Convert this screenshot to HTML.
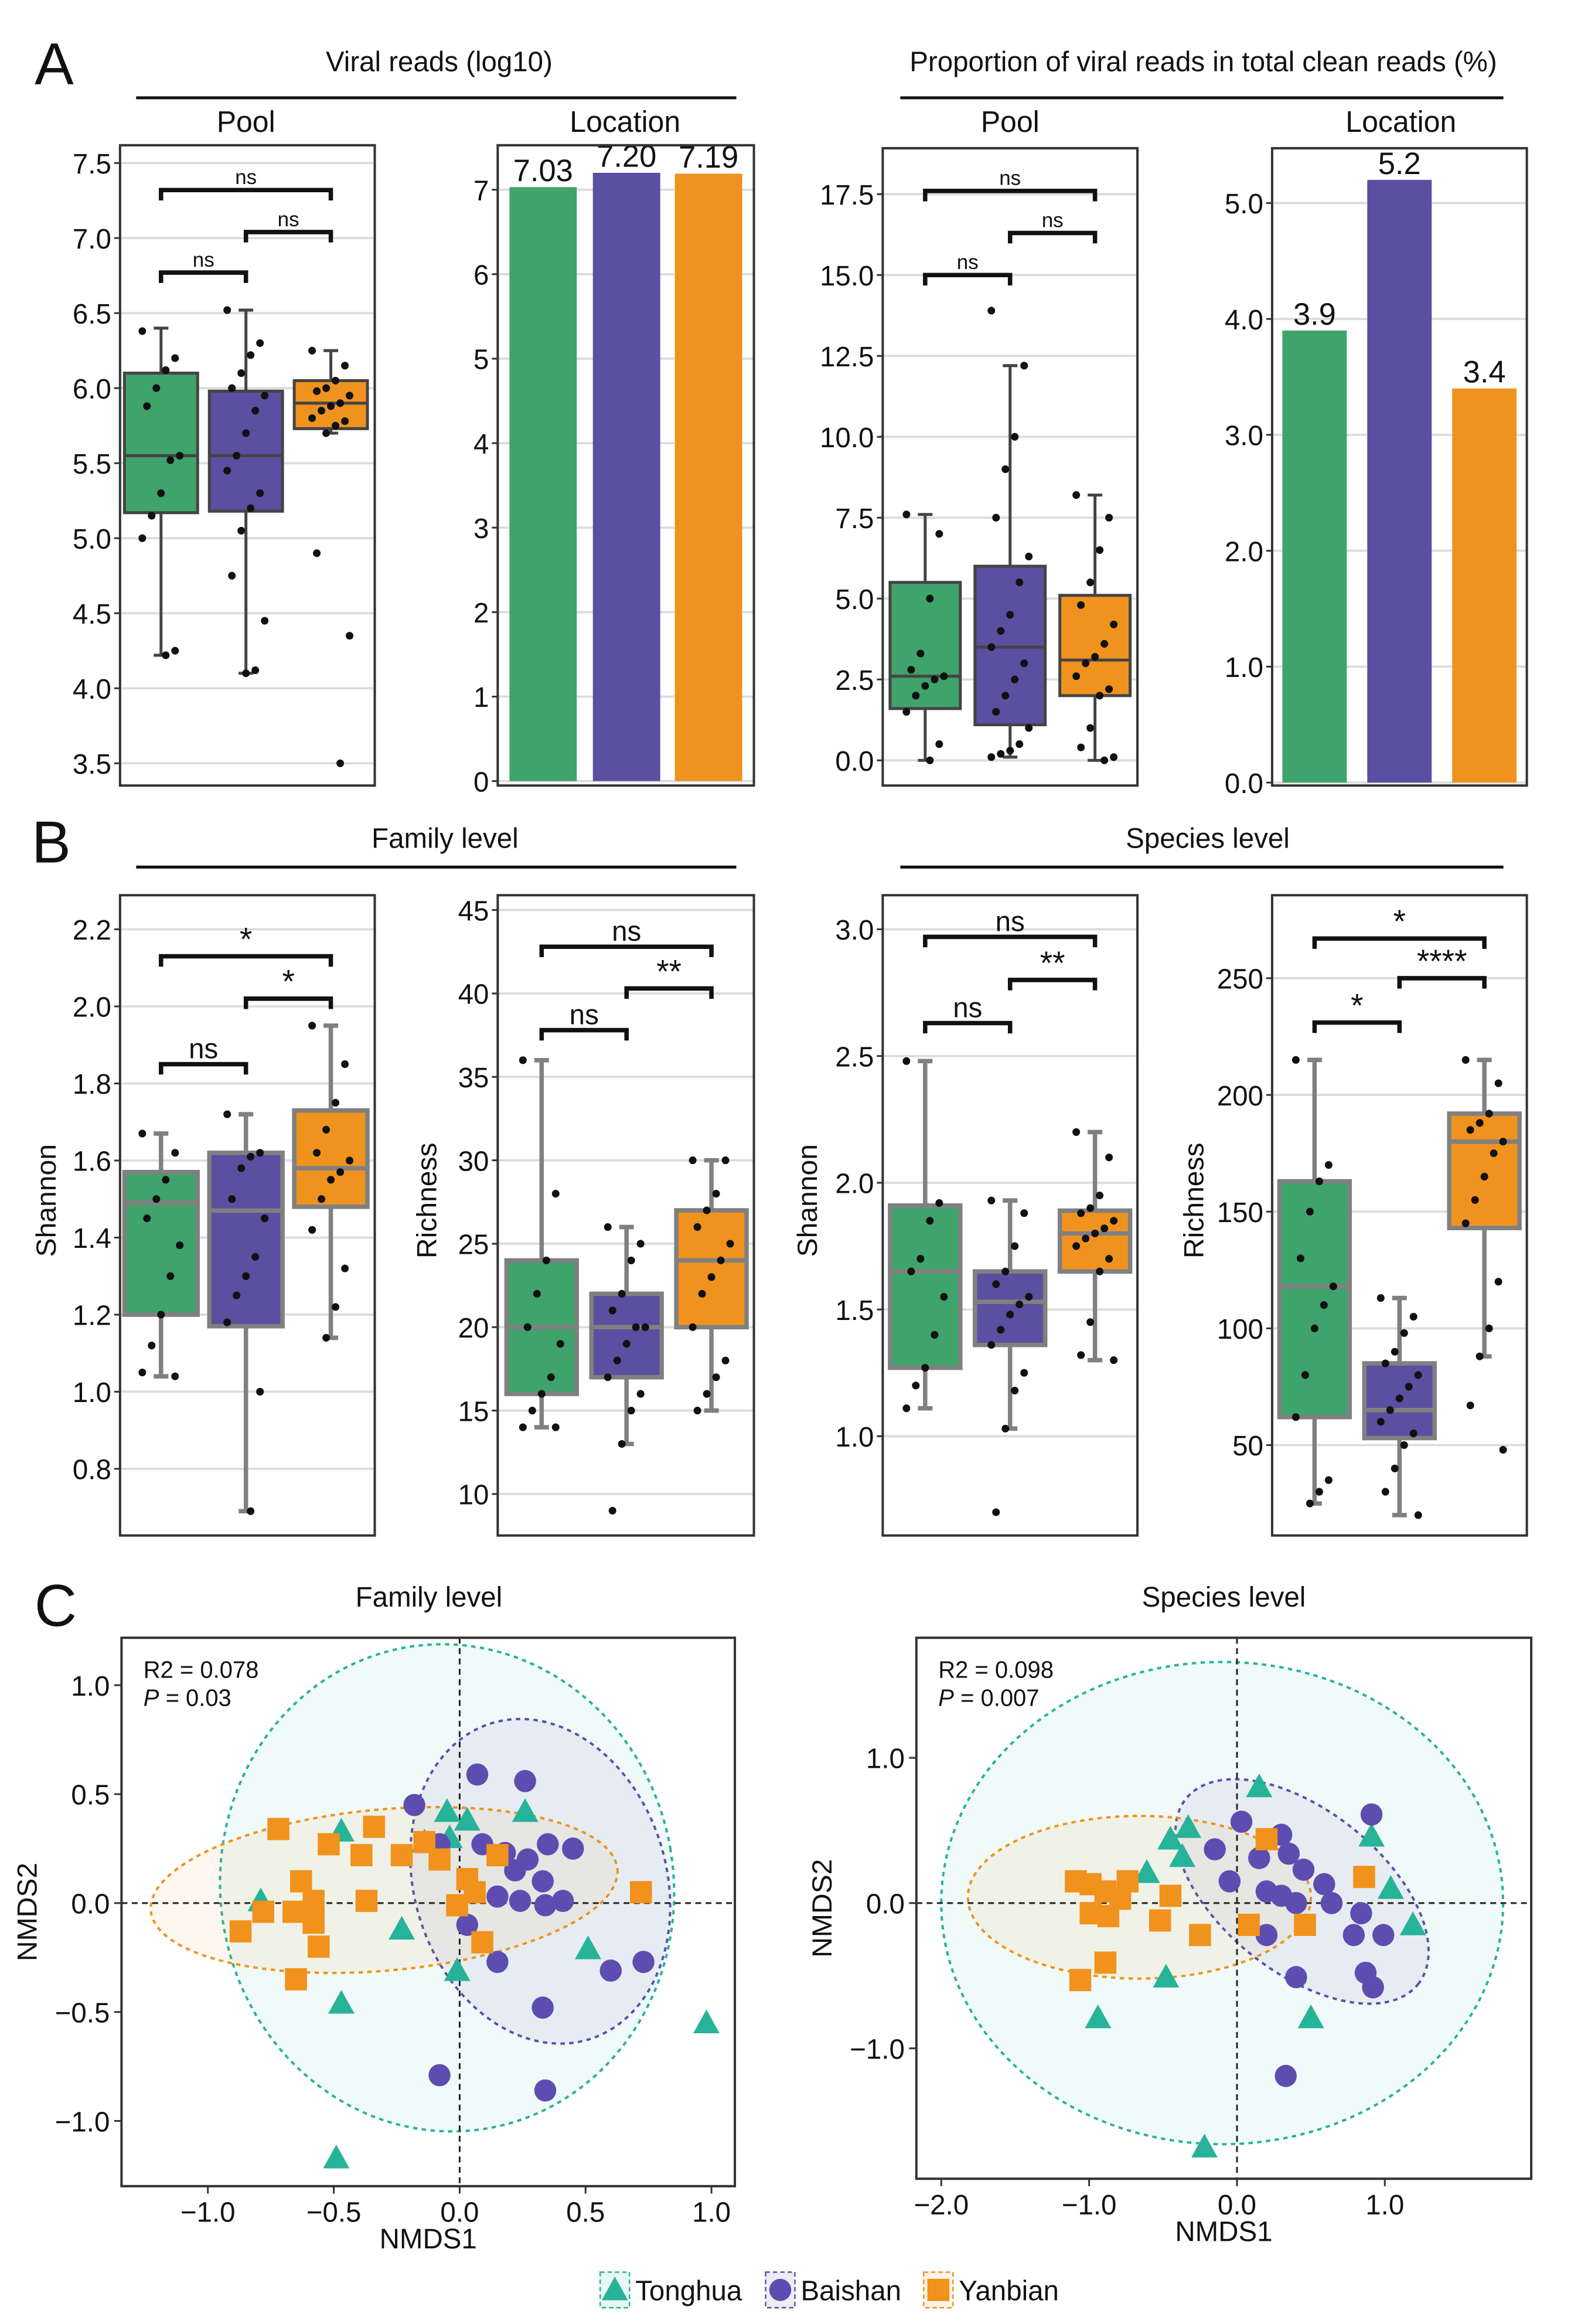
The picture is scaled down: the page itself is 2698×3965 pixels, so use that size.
<!DOCTYPE html>
<html><head><meta charset="utf-8"><style>
html,body{margin:0;padding:0;background:#fff}
svg{display:block;font-family:"Liberation Sans",Arial,sans-serif}
</style></head><body>
<svg id="fig" xmlns="http://www.w3.org/2000/svg" width="2698" height="3965" viewBox="0 0 1080 1568" preserveAspectRatio="none"></svg>
<script>
// ---------- DATA ----------
const groups = ['Tonghua','Baishan','Yanbian'];
const a1Stats = [[4.22,5.17,5.55,6.1,6.4],[4.1,5.18,5.55,5.98,6.52],[5.7,5.73,5.9,6.05,6.25]];
const a1Dots = [[6.38,6.2,6.12,6.0,5.88,5.55,5.52,5.3,5.15,5.0,4.25,4.22],
 [6.52,6.3,6.22,6.1,6.0,5.95,5.85,5.7,5.55,5.45,5.3,5.2,5.05,4.75,4.45,4.12,4.1],
 [6.25,6.15,6.05,6.0,5.98,5.95,5.9,5.88,5.85,5.8,5.78,5.75,5.7,4.9,4.35,3.5]];
const a1Ticks = [3.5,4.0,4.5,5.0,5.5,6.0,6.5,7.0,7.5];
const a2Values = [7.03,7.20,7.19];
const a2Labels = ['7.03','7.20','7.19'];
const a2Ticks = [0,1,2,3,4,5,6,7];
const a3Stats = [[0,1.6,2.6,5.5,7.6],[0.1,1.1,3.5,6.0,12.2],[0,2.0,3.1,5.1,8.2]];
const a3Dots = [[7.6,7.0,5.0,3.3,2.8,2.6,2.5,2.3,2.0,1.5,0.5,0],
 [13.9,12.2,10.0,9.0,7.5,6.3,5.5,4.5,4.0,3.5,3.0,2.5,2.0,1.5,1.0,0.5,0.3,0.2,0.1],
 [8.2,7.5,6.5,5.5,4.8,4.2,3.6,3.2,3.0,2.6,2.2,2.0,1.0,0.4,0.1,0]];
const a3Ticks = [0,2.5,5,7.5,10,12.5,15,17.5];
const a4Values = [3.9,5.2,3.4];
const a4Labels = ['3.9','5.2','3.4'];
const a4Ticks = [0,1,2,3,4,5];
const b1Stats = [[1.04,1.2,1.49,1.57,1.67],[0.69,1.17,1.47,1.62,1.72],[1.14,1.48,1.58,1.73,1.95]];
const b1Dots = [[1.67,1.62,1.55,1.5,1.45,1.38,1.3,1.2,1.12,1.05,1.04],
 [1.72,1.62,1.61,1.58,1.5,1.45,1.35,1.3,1.25,1.18,1.0,0.69],
 [1.95,1.85,1.75,1.68,1.62,1.6,1.57,1.55,1.5,1.42,1.32,1.22,1.14]];
const b1Ticks = [0.8,1.0,1.2,1.4,1.6,1.8,2.0,2.2];
const b2Stats = [[14,16,20,24,36],[13,17,20,22,26],[15,20,24,27,30]];
const b2Dots = [[36,28,24,22,20,19,17,16,15,14,14],
 [26,25,24,22,21,20,20,19,18,17,16,15,13,9],
 [30,30,28,27,26,25,24,23,22,20,18,17,16,15]];
const b2Ticks = [10,15,20,25,30,35,40,45];
const b3Stats = [[1.11,1.27,1.65,1.91,2.48],[1.03,1.36,1.53,1.65,1.93],[1.3,1.65,1.8,1.89,2.2]];
const b3Dots = [[2.48,1.92,1.85,1.7,1.65,1.55,1.4,1.27,1.2,1.11],
 [1.93,1.88,1.75,1.65,1.6,1.55,1.52,1.48,1.42,1.36,1.25,1.18,1.03,0.7],
 [2.2,2.1,1.95,1.9,1.88,1.85,1.82,1.8,1.78,1.75,1.7,1.65,1.45,1.32,1.3]];
const b3Ticks = [1.0,1.5,2.0,2.5,3.0];
const b4Stats = [[25,62,118,163,215],[20,53,65,85,113],[88,143,180,192,215]];
const b4Dots = [[215,170,163,150,130,118,110,100,80,62,35,30,25],
 [113,105,98,90,85,80,75,70,65,60,55,50,40,30,20],
 [215,205,192,188,185,180,175,165,155,145,120,100,88,67,48]];
const b4Ticks = [50,100,150,200,250];
const cfTong = [[-0.79,0.01],[-0.47,0.33],[-0.23,-0.12],[-0.14,0.28],[-0.05,0.42],[0.03,0.38],[0.26,0.42],[-0.04,0.30],[-0.01,-0.31],[0.51,-0.21],[-0.47,-0.46],[0.98,-0.55],[-0.49,-1.17]];
const cfBai = [[0.07,0.59],[0.26,0.56],[-0.18,0.45],[-0.08,0.27],[0.09,0.27],[0.18,0.23],[0.27,0.20],[0.35,0.27],[0.45,0.25],[0.22,0.15],[0.33,0.10],[0.41,0.01],[0.24,0.01],[0.15,0.03],[0.34,-0.01],[0.03,-0.10],[0.15,-0.27],[0.60,-0.31],[0.73,-0.27],[0.33,-0.48],[-0.08,-0.79],[0.34,-0.86]];
const cfYan = [[-0.34,0.35],[-0.72,0.34],[-0.52,0.27],[-0.39,0.22],[-0.23,0.22],[-0.14,0.28],[-0.08,0.20],[0.15,0.22],[0.03,0.11],[-0.63,0.10],[-0.37,0.01],[-0.58,0.01],[-0.78,-0.04],[-0.66,-0.04],[-0.58,-0.09],[-0.01,-0.01],[0.06,0.05],[0.72,0.05],[-0.87,-0.13],[-0.56,-0.20],[0.09,-0.18],[-0.65,-0.35]];
const cfXTicks = [-1.0,-0.5,0.0,0.5,1.0];
const cfYTicks = [-1.0,-0.5,0.0,0.5,1.0];
const csTong = [[0.15,0.80],[-0.33,0.52],[-0.45,0.44],[-0.37,0.32],[-0.61,0.21],[0.91,0.46],[1.04,0.10],[1.19,-0.15],[-0.48,-0.51],[0.50,-0.79],[-0.94,-0.79],[-0.22,-1.68]];
const csBai = [[0.03,0.56],[0.30,0.47],[0.91,0.61],[-0.15,0.37],[0.15,0.31],[0.35,0.34],[0.45,0.23],[-0.05,0.15],[0.20,0.08],[0.30,0.05],[0.40,0.0],[0.59,0.13],[0.64,0.0],[0.84,-0.07],[0.79,-0.22],[0.99,-0.22],[0.20,-0.22],[0.40,-0.51],[0.87,-0.48],[0.92,-0.58],[0.33,-1.19]];
const csYan = [[0.20,0.44],[-1.09,0.15],[-0.99,0.13],[-0.89,0.08],[-0.74,0.15],[-0.79,0.03],[-0.99,-0.07],[-0.45,0.05],[-0.87,-0.09],[-0.52,-0.12],[0.08,-0.15],[0.46,-0.15],[0.86,0.18],[-0.25,-0.22],[-0.89,-0.41],[-1.06,-0.53]];
const csXTicks = [-2.0,-1.0,0.0,1.0];
const csYTicks = [-1.0,0.0,1.0];

// ---------- HELPERS ----------
const NS='http://www.w3.org/2000/svg';
const svg=document.getElementById('fig');
function el(tag,attrs,parent,txt){const e=document.createElementNS(NS,tag);for(const k in attrs)e.setAttribute(k,attrs[k]);if(txt!==undefined)e.textContent=txt;(parent||svg).appendChild(e);return e;}
function lin(v0,p0,v1,p1){return v=>p0+(v-v0)*(p1-p0)/(v1-v0);}
const boxFill=['#3fa36c','#5a4fa0','#f0931e'];
const ptCol=['#26b39a','#5d4db0','#f0921c'];
function txt(x,y,s,size,anchor,name,extra){const t=el('text',Object.assign({x:x,y:y,'font-size':size,'text-anchor':anchor||'middle',fill:'#111'},extra||{}),svg,s);return t;}
function frame(x0,y0,x1,y1,name){const r=el('rect',{x:x0,y:y0,width:x1-x0,height:y1-y0,fill:'none',stroke:'#333','stroke-width':1.6});}
function yAxis(x0,x1,ticks,sy,fmt,name){ticks.forEach(t=>{const y=sy(t);const g=el('line',{x1:x0,x2:x1,y1:y,y2:y,stroke:'#dcdcdc','stroke-width':1.5});
 const tk=el('line',{x1:x0-4,x2:x0,y1:y,y2:y,stroke:'#333','stroke-width':1.2});
 txt(x0-6,y+7,fmt(t),19,'end',name+'-tick-label');});}
function boxplot(cxs,w,stats,dots,sy,stroke,sw,name){stats.forEach((s,i)=>{const cx=cxs[i];
 const wl=el('line',{x1:cx,x2:cx,y1:sy(s[0]),y2:sy(s[4]),stroke:stroke,'stroke-width':sw});
 [s[0],s[4]].forEach(v=>{const c=el('line',{x1:cx-5,x2:cx+5,y1:sy(v),y2:sy(v),stroke:stroke,'stroke-width':sw});});
 const b=el('rect',{x:cx-w/2,y:sy(s[3]),width:w,height:sy(s[1])-sy(s[3]),fill:boxFill[i],stroke:stroke,'stroke-width':sw});
 const m=el('line',{x1:cx-w/2,x2:cx+w/2,y1:sy(s[2]),y2:sy(s[2]),stroke:stroke,'stroke-width':sw});
 dots[i].forEach((v,j)=>{const off=((j*7)%9-4)*3.2;const d=el('circle',{cx:cx+off,cy:sy(v),r:2.6,fill:'#111'});});});}
function bracket(xa,xb,y,label,name){const p=el('path',{d:`M${xa},${y+7}V${y}H${xb}V${y+7}`,fill:'none',stroke:'#111','stroke-width':3});
 txt((xa+xb)/2,y-4,label,label==='ns'?(y<600?14:19):22,'middle',name+'-label');}
function bars(xs,w,vals,labels,sy,name){vals.forEach((v,i)=>{const r=el('rect',{x:xs[i],y:sy(v),width:w,height:sy(0)-sy(v),fill:boxFill[i]});
 txt(xs[i]+w/2,sy(v)-4,labels[i],21,'middle',name+'-value-label');});}

// ---------- PANEL A ----------
txt(37,57,'A',40,'middle','panel-a-letter');
txt(300,48,'Viral reads (log10)',19,'middle','viral-reads-title');
el('line',{x1:93,x2:503,y1:66,y2:66,stroke:'#111','stroke-width':2,});
txt(168,89,'Pool',20,'middle','a1-subtitle');txt(427,89,'Location',20,'middle','a2-subtitle');
txt(822,48,'Proportion of viral reads in total clean reads (%)',19,'middle','proportion-title');
el('line',{x1:615,x2:1027,y1:66,y2:66,stroke:'#111','stroke-width':2,});
txt(690,89,'Pool',20,'middle','a3-subtitle');txt(957,89,'Location',20,'middle','a4-subtitle');

const sA1=lin(7.5,110,3.5,515);
yAxis(82,256,a1Ticks,sA1,v=>v.toFixed(1),'a1');
boxplot([110,168,226],50,a1Stats,a1Dots,sA1,'#444',2,'a1');
bracket(110,168,sA1(6.77),'ns','a1-sig-1-2');bracket(168,226,sA1(7.04),'ns','a1-sig-2-3');bracket(110,226,sA1(7.32),'ns','a1-sig-1-3');
frame(82,98,256,530,'a1-frame');

const sA2=lin(0,527,7,128);
yAxis(340,515,a2Ticks,sA2,v=>String(v),'a2');
bars([348,405,461],46,a2Values,a2Labels,sA2,'a2');
frame(340,98,515,530,'a2-frame');

const sA3=lin(17.5,131,0,513);
yAxis(603,777,a3Ticks,sA3,v=>v.toFixed(1),'a3');
boxplot([632,690,748],48,a3Stats,a3Dots,sA3,'#444',2,'a3');
bracket(632,690,sA3(15.0),'ns','a3-sig-1-2');bracket(690,748,sA3(16.3),'ns','a3-sig-2-3');bracket(632,748,sA3(17.6),'ns','a3-sig-1-3');
frame(603,100,777,530,'a3-frame');

const sA4=lin(0,528,5,137);
yAxis(869,1043,a4Ticks,sA4,v=>v.toFixed(1),'a4');
bars([876,934,992],44,a4Values,a4Labels,sA4,'a4');
frame(869,100,1043,530,'a4-frame');

// ---------- PANEL B ----------
txt(35,582,'B',40,'middle','panel-b-letter');
txt(304,572,'Family level',19,'middle','b-family-title');
el('line',{x1:93,x2:503,y1:585,y2:585,stroke:'#111','stroke-width':2,});
txt(825,572,'Species level',19,'middle','b-species-title');
el('line',{x1:615,x2:1027,y1:585,y2:585,stroke:'#111','stroke-width':2,});

const sB1=lin(2.2,627,0.8,991);
yAxis(82,256,b1Ticks,sB1,v=>v.toFixed(1),'b1');
boxplot([110,168,226],50,b1Stats,b1Dots,sB1,'#808080',3,'b1');
bracket(110,168,sB1(1.85),'ns','b1-sig-1-2');bracket(168,226,sB1(2.02),'*','b1-sig-2-3');bracket(110,226,sB1(2.13),'*','b1-sig-1-3');
frame(82,604,256,1036,'b1-frame');
txt(38,810,'Shannon',19,'middle','b1-y-title',{transform:'rotate(-90 38 810)'});

const sB2=lin(45,614,10,1008);
yAxis(340,515,b2Ticks,sB2,v=>String(v),'b2');
boxplot([370,428,486],48,b2Stats,b2Dots,sB2,'#808080',3,'b2');
bracket(370,428,sB2(37.8),'ns','b2-sig-1-2');bracket(428,486,sB2(40.3),'**','b2-sig-2-3');bracket(370,486,sB2(42.8),'ns','b2-sig-1-3');
frame(340,604,515,1036,'b2-frame');
txt(298,810,'Richness',19,'middle','b2-y-title',{transform:'rotate(-90 298 810)'});

const sB3=lin(3.0,627,1.0,969);
yAxis(603,777,b3Ticks,sB3,v=>v.toFixed(1),'b3');
boxplot([632,690,748],48,b3Stats,b3Dots,sB3,'#808080',3,'b3');
bracket(632,690,sB3(2.63),'ns','b3-sig-1-2');bracket(690,748,sB3(2.80),'**','b3-sig-2-3');bracket(632,748,sB3(2.97),'ns','b3-sig-1-3');
frame(603,604,777,1036,'b3-frame');
txt(558,810,'Shannon',19,'middle','b3-y-title',{transform:'rotate(-90 558 810)'});

const sB4=lin(250,660,50,975);
yAxis(869,1043,b4Ticks,sB4,v=>String(v),'b4');
boxplot([898,956,1014],48,b4Stats,b4Dots,sB4,'#808080',3,'b4');
bracket(898,956,sB4(231),'*','b4-sig-1-2');bracket(956,1014,sB4(250),'****','b4-sig-2-3');bracket(898,1014,sB4(267),'*','b4-sig-1-3');
frame(869,604,1043,1036,'b4-frame');
txt(822,810,'Richness',19,'middle','b4-y-title',{transform:'rotate(-90 822 810)'});

// ---------- PANEL C ----------
txt(38,1097,'C',40,'middle','panel-c-letter');
txt(293,1084,'Family level',19,'middle','c-family-title');
txt(836,1084,'Species level',19,'middle','c-species-title');
function marker(kind,x,y,col,name){let e;
 if(kind==0)e=el('path',{d:`M${x},${y-9}L${x+9},${y+7}L${x-9},${y+7}Z`,fill:col});
 else if(kind==1)e=el('circle',{cx:x,cy:y,r:7.5,fill:col});
 else e=el('rect',{x:x-7.5,y:y-7.5,width:15,height:15,fill:col});
 return e;}
function ellipse(cx,cy,rx,ry,rot,i,name){const e=el('ellipse',{cx:cx,cy:cy,rx:rx,ry:ry,transform:`rotate(${rot} ${cx} ${cy})`,fill:ptCol[i],'fill-opacity':0.07,stroke:ptCol[i],'stroke-width':1.6,'stroke-dasharray':'3 3'});}
function nmds(x0,y0,x1,y1,sx,sy,xt,yt,sets,ells,r2,p,name){
 const c=el('rect',{x:x0,y:y0,width:x1-x0,height:y1-y0,fill:'#fff'});
 ells.forEach((e,i)=>ellipse(sx(e[0]),sy(e[1]),Math.abs(sx(e[2])-sx(0)),Math.abs(sy(e[3])-sy(0)),e[4],i,name+'-ellipse-'+groups[i].toLowerCase()));
 const vx=el('line',{x1:sx(0),x2:sx(0),y1:y0,y2:y1,stroke:'#222','stroke-width':1.2,'stroke-dasharray':'4 3'});
 const hy=el('line',{x1:x0,x2:x1,y1:sy(0),y2:sy(0),stroke:'#222','stroke-width':1.2,'stroke-dasharray':'4 3'});
 sets.forEach((s,i)=>s.forEach(pt=>marker(i,sx(pt[0]),sy(pt[1]),ptCol[i],name+'-point-'+groups[i].toLowerCase())));
 frame(x0,y0,x1,y1,name+'-frame');
 xt.forEach(t=>{const x=sx(t);const tk=el('line',{x1:x,x2:x,y1:y1,y2:y1+5,stroke:'#333','stroke-width':1.2});txt(x,y1+24,(t<0?'\u2212':'')+Math.abs(t).toFixed(1),19,'middle',name+'-x-tick-label');});
 yt.forEach(t=>{const y=sy(t);const tk=el('line',{x1:x0-5,x2:x0,y1:y,y2:y,stroke:'#333','stroke-width':1.2});txt(x0-8,y+7,(t<0?'\u2212':'')+Math.abs(t).toFixed(1),19,'end',name+'-y-tick-label');});
 txt(x0+15,y0+27,r2,16,'start',name+'-r2-label');
 const pt=txt(x0+15,y0+46,'',16,'start',name+'-p-label');
 el('tspan',{'font-style':'italic'},pt,'P');el('tspan',{},pt,' = '+p);
 txt((x0+x1)/2,y1+42,'NMDS1',19,'middle',name+'-x-title');
 const yx=x0-58,yy=(y0+y1)/2;txt(yx,yy,'NMDS2',19,'middle',name+'-y-title',{transform:`rotate(-90 ${yx} ${yy})`});}
const sxF=lin(0,314,1,486), syF=lin(0,1284,1,1137);
nmds(83,1105,502,1475,sxF,syF,cfXTicks,cfYTicks,[cfTong,cfBai,cfYan],
 [[-0.05,0.07,0.9,1.12,-10],[0.32,0.1,0.5,0.76,-18],[-0.3,0.06,0.93,0.37,-5]],'R2 = 0.078','0.03','c1');
const sxS=lin(0,845,1,946), syS=lin(0,1284,1,1186);
nmds(626,1105,1046,1470,sxS,syS,csXTicks,csYTicks,[csTong,csBai,csYan],
 [[-0.1,0,1.9,1.66,0],[0.44,0.08,1.0,0.56,38],[-0.66,0.04,1.16,0.56,0]],'R2 = 0.098','0.007','c2');

// legend
[[420,'Tonghua'],[533,'Baishan'],[641,'Yanbian']].forEach((l,i)=>{
 const bg=el('rect',{x:l[0]-10,y:1533,width:20,height:24,fill:ptCol[i],'fill-opacity':0.1,stroke:ptCol[i],'stroke-dasharray':'3 2'});
 marker(i,l[0],1545,ptCol[i],'legend-marker-'+groups[i].toLowerCase());
 txt(l[0]+14,1552,l[1],19,'start','legend-label-'+groups[i].toLowerCase());});
</script>
</body></html>
